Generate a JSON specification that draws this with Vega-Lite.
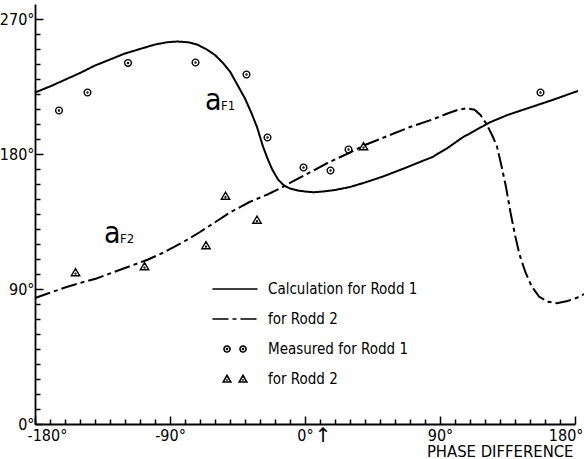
{
  "$schema": "https://vega.github.io/schema/vega-lite/v6.json",
  "width": 540,
  "height": 420,
  "autosize": {"type": "none"},
  "padding": {"left": 35, "top": 4, "right": 9, "bottom": 35},
  "background": "white",
  "config": {
    "view": {"stroke": null},
    "font": "Liberation Sans Narrow, DejaVu Sans Condensed, Roboto Condensed, Liberation Sans",
    "axis": {
      "grid": false,
      "domainColor": "black",
      "domainWidth": 1.8,
      "tickColor": "black",
      "tickWidth": 1.5,
      "labelColor": "black",
      "labelFont": "Liberation Sans Narrow, DejaVu Sans Condensed, Roboto Condensed, Liberation Sans",
      "labelFontSize": 16,
      "labelOverlap": false,
      "labelFlush": false,
      "titleColor": "black",
      "titleFont": "Liberation Sans Narrow, DejaVu Sans Condensed, Roboto Condensed, Liberation Sans",
      "titleFontWeight": "normal"
    },
    "legend": {
      "labelFont": "Liberation Sans Narrow, DejaVu Sans Condensed, Roboto Condensed, Liberation Sans",
      "labelColor": "black"
    }
  },
  "resolve": {"axis": {"x": "independent", "y": "independent"}},
  "datasets": {
    "curves": [
      {"x": -180, "y": 221, "series": "calc1"},
      {"x": -170, "y": 225, "series": "calc1"},
      {"x": -160, "y": 229.5, "series": "calc1"},
      {"x": -150, "y": 234, "series": "calc1"},
      {"x": -140, "y": 239, "series": "calc1"},
      {"x": -130, "y": 243, "series": "calc1"},
      {"x": -120, "y": 247, "series": "calc1"},
      {"x": -110, "y": 250, "series": "calc1"},
      {"x": -100, "y": 253, "series": "calc1"},
      {"x": -92, "y": 254.5, "series": "calc1"},
      {"x": -85, "y": 255, "series": "calc1"},
      {"x": -78, "y": 254.5, "series": "calc1"},
      {"x": -72, "y": 253, "series": "calc1"},
      {"x": -66, "y": 250, "series": "calc1"},
      {"x": -60, "y": 246, "series": "calc1"},
      {"x": -55, "y": 241, "series": "calc1"},
      {"x": -50, "y": 235, "series": "calc1"},
      {"x": -45, "y": 226, "series": "calc1"},
      {"x": -40, "y": 217, "series": "calc1"},
      {"x": -36, "y": 208, "series": "calc1"},
      {"x": -32, "y": 198, "series": "calc1"},
      {"x": -28, "y": 185, "series": "calc1"},
      {"x": -25, "y": 177, "series": "calc1"},
      {"x": -22, "y": 170, "series": "calc1"},
      {"x": -18, "y": 163, "series": "calc1"},
      {"x": -14, "y": 159, "series": "calc1"},
      {"x": -10, "y": 157, "series": "calc1"},
      {"x": -4, "y": 155.5, "series": "calc1"},
      {"x": 0, "y": 155, "series": "calc1"},
      {"x": 6, "y": 154.5, "series": "calc1"},
      {"x": 12, "y": 155, "series": "calc1"},
      {"x": 20, "y": 156, "series": "calc1"},
      {"x": 30, "y": 158, "series": "calc1"},
      {"x": 40, "y": 161, "series": "calc1"},
      {"x": 52, "y": 165, "series": "calc1"},
      {"x": 65, "y": 170, "series": "calc1"},
      {"x": 75, "y": 174, "series": "calc1"},
      {"x": 85, "y": 178, "series": "calc1"},
      {"x": 95, "y": 184, "series": "calc1"},
      {"x": 105, "y": 191, "series": "calc1"},
      {"x": 114, "y": 196, "series": "calc1"},
      {"x": 123, "y": 201, "series": "calc1"},
      {"x": 135, "y": 206, "series": "calc1"},
      {"x": 150, "y": 211, "series": "calc1"},
      {"x": 165, "y": 216, "series": "calc1"},
      {"x": 179, "y": 221, "series": "calc1"},
      {"x": 182, "y": 222, "series": "calc1"},
      {"x": -180, "y": 84, "series": "calc2"},
      {"x": -170, "y": 87.5, "series": "calc2"},
      {"x": -160, "y": 91, "series": "calc2"},
      {"x": -150, "y": 94, "series": "calc2"},
      {"x": -139, "y": 97, "series": "calc2"},
      {"x": -120, "y": 104, "series": "calc2"},
      {"x": -105, "y": 109.5, "series": "calc2"},
      {"x": -95, "y": 114, "series": "calc2"},
      {"x": -80, "y": 122, "series": "calc2"},
      {"x": -70, "y": 128, "series": "calc2"},
      {"x": -60, "y": 134.5, "series": "calc2"},
      {"x": -50, "y": 141, "series": "calc2"},
      {"x": -37, "y": 148, "series": "calc2"},
      {"x": -25, "y": 153, "series": "calc2"},
      {"x": -15, "y": 158, "series": "calc2"},
      {"x": 0, "y": 166, "series": "calc2"},
      {"x": 15, "y": 174, "series": "calc2"},
      {"x": 30, "y": 181, "series": "calc2"},
      {"x": 40, "y": 186, "series": "calc2"},
      {"x": 50, "y": 190, "series": "calc2"},
      {"x": 60, "y": 194, "series": "calc2"},
      {"x": 70, "y": 198, "series": "calc2"},
      {"x": 85, "y": 203, "series": "calc2"},
      {"x": 95, "y": 207, "series": "calc2"},
      {"x": 102, "y": 209.5, "series": "calc2"},
      {"x": 108, "y": 210.5, "series": "calc2"},
      {"x": 113, "y": 209.5, "series": "calc2"},
      {"x": 117, "y": 206, "series": "calc2"},
      {"x": 121, "y": 200, "series": "calc2"},
      {"x": 125, "y": 192, "series": "calc2"},
      {"x": 128, "y": 185, "series": "calc2"},
      {"x": 131, "y": 172, "series": "calc2"},
      {"x": 134, "y": 158, "series": "calc2"},
      {"x": 137, "y": 141, "series": "calc2"},
      {"x": 140, "y": 126, "series": "calc2"},
      {"x": 143, "y": 113, "series": "calc2"},
      {"x": 147, "y": 101, "series": "calc2"},
      {"x": 151, "y": 92, "series": "calc2"},
      {"x": 156, "y": 85, "series": "calc2"},
      {"x": 162, "y": 81.5, "series": "calc2"},
      {"x": 168, "y": 80.5, "series": "calc2"},
      {"x": 175, "y": 82, "series": "calc2"},
      {"x": 181, "y": 84, "series": "calc2"},
      {"x": 187, "y": 87, "series": "calc2"}
    ],
    "meas1": [
      {"x": -164, "y": 209},
      {"x": -145, "y": 221},
      {"x": -118, "y": 240.7},
      {"x": -73, "y": 241},
      {"x": -39, "y": 233},
      {"x": -25, "y": 191},
      {"x": -1, "y": 171},
      {"x": 17, "y": 169},
      {"x": 29, "y": 183},
      {"x": 157, "y": 221}
    ],
    "meas2": [
      {"x": -153, "y": 101},
      {"x": -107, "y": 105},
      {"x": -66, "y": 119},
      {"x": -53, "y": 152},
      {"x": -32, "y": 136},
      {"x": 39, "y": 185}
    ],
    "labels": [
      {"x": -66.7, "y": 209.3, "sub": "F1"},
      {"x": -134, "y": 120.7, "sub": "F2"}
    ],
    "arrow": [
      {"x": 12, "y": -12, "t": "↑"}
    ]
  },
  "layer": [
    {
      "data": {"name": "curves"},
      "mark": {"type": "line", "color": "black", "strokeWidth": 2},
      "encoding": {
        "x": {
          "field": "x", "type": "quantitative",
          "scale": {"domain": [-180, 180], "nice": false, "zero": false},
          "axis": {
            "orient": "bottom",
            "values": [-180, -90, 0, 90, 180],
            "labelExpr": "datum.value + '°'",
            "labelOverlap": false,
            "labelFlush": true,
            "labelFlushOffset": 8,
            "tickSize": -8,
            "labelPadding": 11,
            "title": "PHASE DIFFERENCE",
            "titleFontSize": 16.5,
            "titleAnchor": "end",
            "titleAlign": "right",
            "titleBaseline": "alphabetic",
            "titleX": 538,
            "titleY": 32
          }
        },
        "y": {
          "field": "y", "type": "quantitative",
          "scale": {"domain": [0, 280], "nice": false, "zero": false},
          "axis": {
            "orient": "left",
            "values": [0, 90, 180, 270],
            "labelExpr": "datum.value + '°'",
            "labelOverlap": false,
            "tickSize": -8,
            "labelPadding": 9,
            "title": null
          }
        },
        "strokeDash": {
          "field": "series", "type": "nominal",
          "scale": {"domain": ["calc1", "calc2", "meas1", "meas2"], "range": [[1, 0], [16, 4, 4, 4], [1, 0], [1, 0]]},
          "legend": {
            "orient": "none",
            "legendX": 189,
            "legendY": 274,
            "title": null,
            "labelExpr": "datum.value === 'calc1' ? 'Calculation for Rodd 1' : datum.value === 'calc2' ? 'for Rodd 2' : datum.value === 'meas1' ? 'Measured for Rodd 1' : 'for Rodd 2'",
            "labelFontSize": 15,
            "labelOffset": 22,
            "symbolSize": 400,
            "symbolStrokeWidth": 1.6,
            "symbolStrokeColor": "black",
            "symbolFillColor": "transparent",
            "rowPadding": 11,
            "encode": {
              "symbols": {
                "update": {
                  "shape": {"signal": "datum.value === 'calc1' || datum.value === 'calc2' ? 'M-2.25,0H2.25' : datum.value === 'meas1' ? 'M-1.1,0A0.3,0.3 0 1,0 -0.5,0A0.3,0.3 0 1,0 -1.1,0M-0.85,0A0.05,0.05 0 1,0 -0.75,0A0.05,0.05 0 1,0 -0.85,0M0.5,0A0.3,0.3 0 1,0 1.1,0A0.3,0.3 0 1,0 0.5,0M0.75,0A0.05,0.05 0 1,0 0.85,0A0.05,0.05 0 1,0 0.75,0' : 'M-0.8,-0.36L-0.42,0.3L-1.18,0.3ZM-0.83,0.1A0.03,0.03 0 1,0 -0.77,0.1A0.03,0.03 0 1,0 -0.83,0.1M0.8,-0.36L1.18,0.3L0.42,0.3ZM0.77,0.1A0.03,0.03 0 1,0 0.83,0.1A0.03,0.03 0 1,0 0.77,0.1'"}
                }
              }
            }
          }
        }
      }
    },
    {
      "data": {"name": "meas1"},
      "mark": {
        "type": "point",
        "filled": false,
        "color": "black",
        "strokeWidth": 1.4,
        "size": 45,
        "opacity": 1,
        "shape": "M-1,0A1,1 0 1,0 1,0A1,1 0 1,0 -1,0M-0.15,0A0.15,0.15 0 1,0 0.15,0A0.15,0.15 0 1,0 -0.15,0"
      },
      "encoding": {
        "x": {
          "field": "x", "type": "quantitative",
          "axis": {
            "orient": "bottom",
            "values": [-180,-170,-160,-150,-140,-130,-120,-110,-100,-80,-70,-60,-50,-40,-30,-20,-10,10,20,30,40,50,60,70,80,100,110,120,130,140,150,160,170],
            "labels": false,
            "domain": false,
            "tickSize": -5,
            "title": null
          }
        },
        "y": {
          "field": "y", "type": "quantitative",
          "axis": {
            "orient": "left",
            "values": [10,20,30,40,50,60,70,80,100,110,120,130,140,150,160,170,190,200,210,220,230,240,250,260],
            "labels": false,
            "domain": false,
            "tickSize": -5,
            "title": null
          }
        }
      }
    },
    {
      "data": {"name": "meas2"},
      "mark": {
        "type": "point",
        "filled": false,
        "color": "black",
        "strokeWidth": 1.4,
        "size": 58,
        "opacity": 1,
        "shape": "M0,-1L1.1,0.85L-1.1,0.85ZM-0.12,0.3A0.12,0.12 0 1,0 0.12,0.3A0.12,0.12 0 1,0 -0.12,0.3"
      },
      "encoding": {
        "x": {"field": "x", "type": "quantitative", "axis": null},
        "y": {"field": "y", "type": "quantitative", "axis": null}
      }
    },
    {
      "data": {"name": "labels"},
      "mark": {"type": "text", "text": "a", "fontSize": 30, "align": "left", "baseline": "alphabetic", "color": "black"},
      "encoding": {
        "x": {"field": "x", "type": "quantitative", "axis": null},
        "y": {"field": "y", "type": "quantitative", "axis": null}
      }
    },
    {
      "data": {"name": "labels"},
      "mark": {"type": "text", "fontSize": 13, "align": "left", "baseline": "alphabetic", "dx": 16, "color": "black"},
      "encoding": {
        "x": {"field": "x", "type": "quantitative", "axis": null},
        "y": {"field": "y", "type": "quantitative", "axis": null},
        "text": {"field": "sub"}
      }
    },
    {
      "data": {"name": "arrow"},
      "mark": {"type": "text", "font": "DejaVu Sans", "fontSize": 20, "align": "center", "baseline": "alphabetic", "color": "black"},
      "encoding": {
        "x": {"field": "x", "type": "quantitative", "axis": null},
        "y": {"field": "y", "type": "quantitative", "axis": null},
        "text": {"field": "t"}
      }
    }
  ]
}
